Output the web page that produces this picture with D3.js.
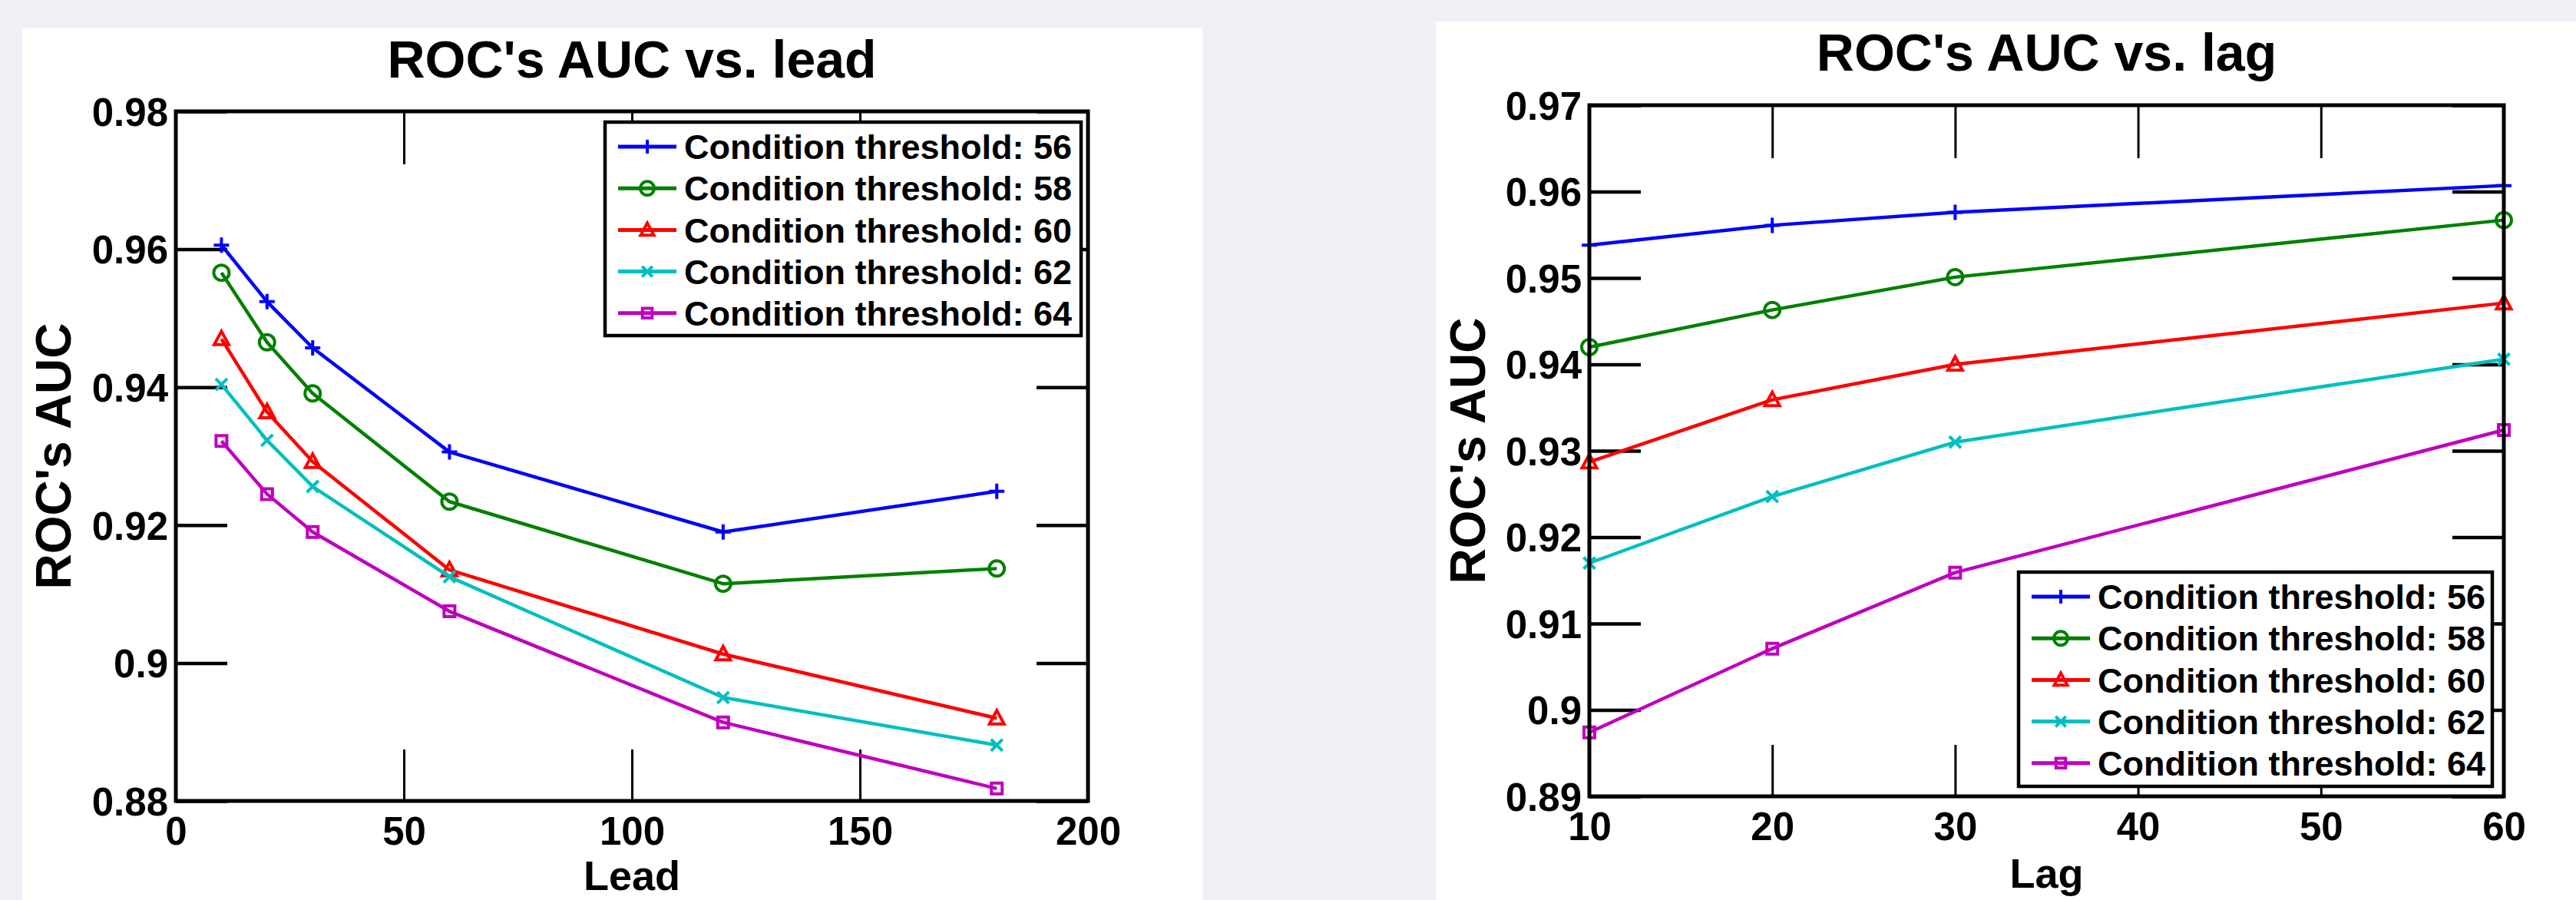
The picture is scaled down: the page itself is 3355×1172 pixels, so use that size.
<!DOCTYPE html>
<html>
<head>
    <meta charset="utf-8">
    <title>ROC's AUC vs. lead / lag</title>
    <style type="text/css">
    body { margin: 0; background: #eff0f5; }
    svg { display: block; }
    text { font-family: "Liberation Sans", Arial, sans-serif; font-weight: bold; fill: #000; }
    </style>
</head>
<body>

    <script src="https://d3js.org/d3.v7.min.js"></script>
    <script>
      // data
      var thresholds = ["56", "58", "60", "62", "64"];
      var colors     = ["#0000ff", "#008000", "#ff0000", "#00bfbf", "#bf00bf"];
      var markers    = ["plus", "circle", "triangle", "cross", "square"];

      var leadX = [10, 20, 30, 60, 120, 180];
      var leadAUC = [
        [0.9606, 0.9524, 0.9457, 0.9306, 0.9190, 0.9249],
        [0.9566, 0.9465, 0.9391, 0.9234, 0.9115, 0.9137],
        [0.9470, 0.9364, 0.9292, 0.9135, 0.9013, 0.8920],
        [0.9404, 0.9323, 0.9256, 0.9125, 0.8950, 0.8881],
        [0.9322, 0.9245, 0.9190, 0.9075, 0.8914, 0.8818]
      ];
      var leadXTicks = [0, 50, 100, 150, 200];
      var leadYTicks = [0.88, 0.90, 0.92, 0.94, 0.96, 0.98];

      var lagX = [10, 20, 30, 60];
      var lagAUC = [
        [0.9538, 0.9561, 0.9576, 0.9607],
        [0.9420, 0.9463, 0.9501, 0.9567],
        [0.9287, 0.9359, 0.9400, 0.9471],
        [0.9170, 0.9247, 0.9310, 0.9406],
        [0.8974, 0.9071, 0.9159, 0.9324]
      ];
      var lagXTicks = [10, 20, 30, 40, 50, 60];
      var lagYTicks = [0.89, 0.90, 0.91, 0.92, 0.93, 0.94, 0.95, 0.96, 0.97];

      var W = 3355, H = 1172;

      var svg = d3.select("body")
          .append("svg")
          .attr("width", W)
          .attr("height", H);

      function fmt(v){ return String(+v.toFixed(2)); }

      function markerPath(type, s){
        if (type === "plus")   return "M" + (-s) + ",0H" + s + "M0," + (-s) + "V" + s;
        if (type === "cross")  { var c = s * 0.75; return "M" + (-c) + "," + (-c) + "L" + c + "," + c + "M" + (-c) + "," + c + "L" + c + "," + (-c); }
        if (type === "circle") return "M" + s + ",0A" + s + "," + s + " 0 1,1 " + (-s) + ",0A" + s + "," + s + " 0 1,1 " + s + ",0Z";
        if (type === "triangle") return "M0," + (-s) + "L" + (s * 0.95) + "," + (s * 0.75) + "L" + (-s * 0.95) + "," + (s * 0.75) + "Z";
        if (type === "square") { var q = s * 0.7; return "M" + (-q) + "," + (-q) + "H" + q + "V" + q + "H" + (-q) + "Z"; }
      }

      function drawPanel(cfg){
        var g = svg.append("g");

        // white figure background
        g.append("rect")
            .attr("x", cfg.panel[0]).attr("y", cfg.panel[1])
            .attr("width", cfg.panel[2]).attr("height", H - cfg.panel[1])
            .attr("fill", "#fff");

        var x = d3.scaleLinear().domain(cfg.xDomain).range([cfg.left, cfg.right]);
        var y = d3.scaleLinear().domain(cfg.yDomain).range([cfg.bottom, cfg.top]);

        // y ticks (inward, both sides)
        var yl = g.append("g")
            .attr("transform", "translate(" + cfg.left + ",0)")
            .call(d3.axisLeft(y).tickValues(cfg.yTicks).tickSize(-67).tickSizeOuter(0).tickPadding(10).tickFormat(fmt));
        g.append("g")
            .attr("transform", "translate(" + cfg.right + ",0)")
            .call(d3.axisRight(y).tickValues(cfg.yTicks).tickSize(-67).tickSizeOuter(0).tickFormat(""));

        // x ticks (inward, both sides)
        var xb = g.append("g")
            .attr("transform", "translate(0," + cfg.bottom + ")")
            .call(d3.axisBottom(x).tickValues(cfg.xTicks).tickSize(-67).tickSizeOuter(0).tickPadding(20).tickFormat(d3.format("d")));
        var xt = g.append("g")
            .attr("transform", "translate(0," + cfg.top + ")")
            .call(d3.axisTop(x).tickValues(cfg.xTicks).tickSize(-69).tickSizeOuter(0).tickFormat(""));

        g.selectAll(".domain").remove();
        g.selectAll(".tick line").attr("stroke", "#000").attr("stroke-width", 4.5);
        xb.selectAll(".tick line").attr("stroke-width", 3);
        xt.selectAll(".tick line").attr("stroke-width", 3);
        g.selectAll(".tick text").style("font-size", "51px").style("font-family", "'Liberation Sans', Arial, sans-serif").style("font-weight", "bold").attr("fill", "#000");
        yl.selectAll(".tick text").attr("dy", "0.36em");
        xb.selectAll(".tick text").attr("dy", "0.72em");

        // series
        var line = d3.line()
            .x(function(d){ return x(d[0]); })
            .y(function(d){ return y(d[1]); });

        cfg.values.forEach(function(vals, i){
          var pts = cfg.xs.map(function(xv, j){ return [xv, vals[j]]; });
          g.append("path")
              .attr("d", line(pts))
              .attr("fill", "none")
              .attr("stroke", colors[i])
              .attr("stroke-width", 4.5)
              .attr("stroke-linejoin", "round");
          g.selectAll(null)
              .data(pts)
              .enter()
              .append("path")
              .attr("transform", function(d){ return "translate(" + x(d[0]) + "," + y(d[1]) + ")"; })
              .attr("d", markerPath(markers[i], 10))
              .attr("fill", "none")
              .attr("stroke", colors[i])
              .attr("stroke-width", 4);
        });

        // axes box
        g.append("rect")
            .attr("x", cfg.left).attr("y", cfg.top)
            .attr("width", cfg.right - cfg.left).attr("height", cfg.bottom - cfg.top)
            .attr("fill", "none")
            .attr("stroke", "#000")
            .attr("stroke-width", 5);

        // legend
        var lg = g.append("g");
        lg.append("rect")
            .attr("x", cfg.legend[0]).attr("y", cfg.legend[1])
            .attr("width", cfg.legend[2]).attr("height", cfg.legend[3])
            .attr("fill", "#fff")
            .attr("stroke", "#000")
            .attr("stroke-width", 4.5);
        thresholds.forEach(function(t, i){
          var ly = cfg.legend[1] + 32 + i * 54.2;
          var lx = cfg.legend[0] + 17;
          lg.append("line")
              .attr("x1", lx).attr("x2", lx + 76)
              .attr("y1", ly).attr("y2", ly)
              .attr("stroke", colors[i])
              .attr("stroke-width", 5);
          lg.append("path")
              .attr("transform", "translate(" + (lx + 38) + "," + ly + ")")
              .attr("d", markerPath(markers[i], 9))
              .attr("fill", "none")
              .attr("stroke", colors[i])
              .attr("stroke-width", 4);
          lg.append("text")
              .attr("x", lx + 86)
              .attr("y", ly)
              .attr("dy", "0.36em")
              .style("font-size", "45px")
              .text("Condition threshold: " + t);
        });

        // title and axis labels
        g.append("text")
            .attr("x", (cfg.left + cfg.right) / 2)
            .attr("y", cfg.titleY)
            .attr("text-anchor", "middle")
            .style("font-size", "68px")
            .text(cfg.title);

        g.append("text")
            .attr("transform", "translate(" + cfg.yLabelX + "," + ((cfg.top + cfg.bottom) / 2) + ") rotate(-90)")
            .attr("text-anchor", "middle")
            .style("font-size", "64px")
            .text("ROC's AUC");

        g.append("text")
            .attr("x", (cfg.left + cfg.right) / 2)
            .attr("y", cfg.xLabelY)
            .attr("text-anchor", "middle")
            .style("font-size", "54px")
            .text(cfg.xLabel);
      }

      drawPanel({
        panel: [29, 36, 1537],
        left: 229, right: 1417, top: 145, bottom: 1043,
        xDomain: [0, 200], yDomain: [0.88, 0.98],
        xTicks: leadXTicks, yTicks: leadYTicks,
        xs: leadX, values: leadAUC,
        legend: [788, 159, 620, 278],
        title: "ROC's AUC vs. lead", titleY: 101,
        yLabelX: 92, xLabel: "Lead", xLabelY: 1159
      });

      drawPanel({
        panel: [1870, 28, 1485],
        left: 2070, right: 3261, top: 137, bottom: 1037,
        xDomain: [10, 60], yDomain: [0.89, 0.97],
        xTicks: lagXTicks, yTicks: lagYTicks,
        xs: lagX, values: lagAUC,
        legend: [2629, 745, 617, 279],
        title: "ROC's AUC vs. lag", titleY: 92,
        yLabelX: 1934, xLabel: "Lag", xLabelY: 1156
      });
    </script>
</body>
</html>
